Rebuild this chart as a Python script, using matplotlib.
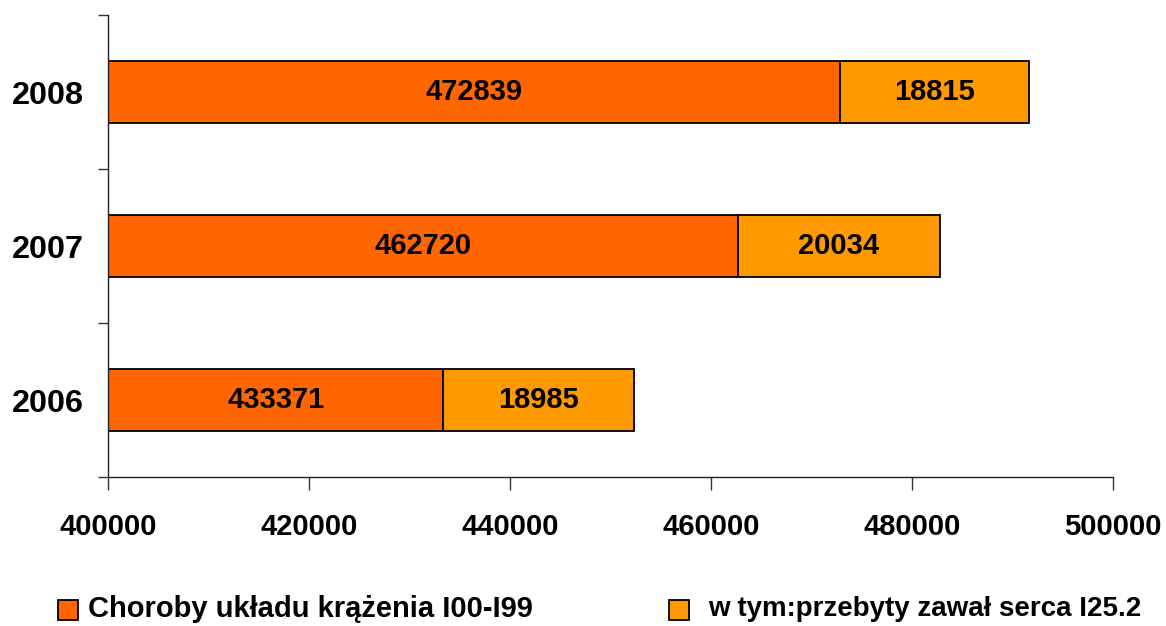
import matplotlib
matplotlib.use("Agg")
import matplotlib.pyplot as plt
from matplotlib.patches import Rectangle
from matplotlib.ticker import FixedLocator

years = ["2006", "2007", "2008"]
choroby = [433371, 462720, 472839]
zawal = [18985, 20034, 18815]
series_names = ["Choroby układu krążenia I00-I99", "w tym:przebyty zawał serca I25.2"]
colors = ["#FF6600", "#FF9900"]
xticks = [400000, 420000, 440000, 460000, 480000, 500000]

plt.rcParams['font.family'] = ['Liberation Sans', 'DejaVu Sans']
plt.rcParams['font.weight'] = 'bold'

fig = plt.figure(figsize=(11.66, 6.26), dpi=100)
ax = fig.add_axes([108/1166, 1-477/626, (1113-108)/1166, (477-15)/626])

ypos = list(range(len(years)))
left0 = [xticks[0]] * len(years)
w1 = [c - xticks[0] for c in choroby]
b1 = ax.barh(ypos, w1, left=left0, height=0.40, color=colors[0], edgecolor='black', linewidth=1.3)
b2 = ax.barh(ypos, zawal, left=choroby, height=0.40, color=colors[1], edgecolor='black', linewidth=1.3)
ax.bar_label(b1, labels=[str(v) for v in choroby], label_type='center', fontsize=21, fontweight='bold')
ax.bar_label(b2, labels=[str(v) for v in zawal], label_type='center', fontsize=21, fontweight='bold')

ax.set_xlim(xticks[0], xticks[-1])
ax.set_ylim(-0.5, len(years) - 0.5)
ax.set_xticks(xticks)
ax.set_xticklabels([str(t) for t in xticks], fontsize=21, fontweight='bold')
ax.set_yticks(ypos)
ax.set_yticklabels(years, fontsize=23.3, fontweight='bold')
ax.yaxis.set_minor_locator(FixedLocator([-0.5, 0.5, 1.5, 2.5]))
ax.tick_params(axis='y', which='major', length=0, pad=17.5)
ax.tick_params(axis='y', which='minor', length=7, width=1, color='#333333')
ax.tick_params(axis='x', which='major', length=9, width=1, pad=17, color='#333333')
for s in ['top', 'right']:
    ax.spines[s].set_visible(False)
for s in ['left', 'bottom']:
    ax.spines[s].set_color('#222222')
    ax.spines[s].set_linewidth(1)

# legend
W, H = 1166, 626
sq = 20
for (xsq, xt, fs), name, col in zip([(58, 88, 21), (669, 708, 20)], series_names, colors):
    fig.patches.append(Rectangle((xsq/W, 1-620/H), sq/W, sq/H, transform=fig.transFigure,
                                 facecolor=col, edgecolor='black', linewidth=1.3))
    fig.text(xt/W, 1-609/H, name, fontsize=fs, fontweight='bold', va='center', ha='left')

fig.savefig("out.png", dpi=100)
